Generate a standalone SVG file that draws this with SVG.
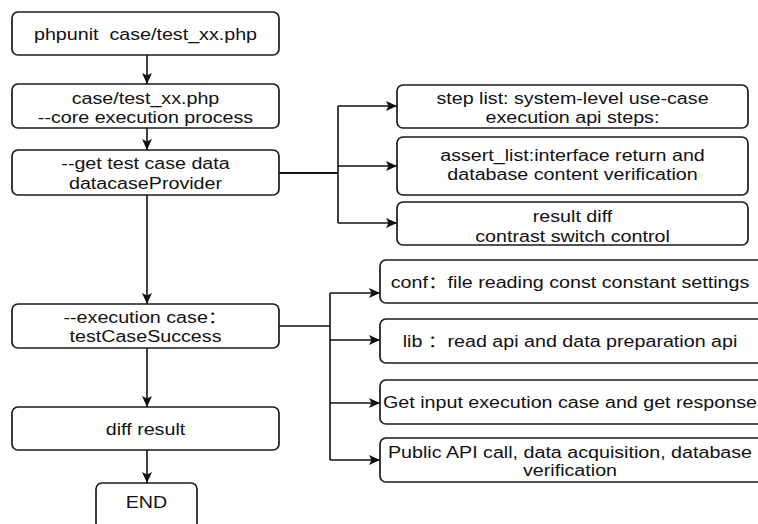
<svg xmlns="http://www.w3.org/2000/svg" width="758" height="524" viewBox="0 0 758 524">
<defs>
<marker id="arr" markerWidth="12" markerHeight="11" refX="11" refY="5.5" orient="auto" markerUnits="userSpaceOnUse">
<path d="M0,0.5 L11,5.5 L0,10.5 L2.5,5.5 Z" fill="#111"/>
</marker>
<style>
.box{fill:#fff;stroke:#1a1a1a;stroke-width:1.7}
.t{font-family:"Liberation Sans",Arial,"Noto Sans CJK SC",sans-serif;font-size:16px;fill:#111;text-anchor:middle}
.c{fill:none;stroke:#111;stroke-width:1.6}
.a{fill:none;stroke:#111;stroke-width:1.6;marker-end:url(#arr)}
</style>
</defs>
<rect width="758" height="524" fill="#fff"/>
<g id="connectors">
<path class="a" d="M147,55 V84"/>
<path class="a" d="M147,128 V150"/>
<path class="a" d="M147,195 V304"/>
<path class="a" d="M147,348 V407"/>
<path class="a" d="M147,450 V483"/>
<path class="c" d="M279,173 H338" style="stroke-width:2.2"/>
<path class="c" d="M338,106 V223"/>
<path class="a" d="M338,106 H397"/>
<path class="a" d="M338,166 H397"/>
<path class="a" d="M338,223 H397"/>
<path class="c" d="M279,326 H330"/>
<path class="c" d="M330,293 V460"/>
<path class="a" d="M330,293 H380"/>
<path class="a" d="M330,340 H380"/>
<path class="a" d="M330,403 H380"/>
<path class="a" d="M330,460 H380"/>
</g>
<g id="n1">
<rect class="box" x="12" y="12" width="267" height="43" rx="6"/>
<text class="t" xml:space="preserve" transform="translate(145.5,40) scale(1.23,1)">phpunit  case/test_xx.php</text>
</g>
<g id="n2">
<rect class="box" x="12" y="84" width="267" height="44" rx="6"/>
<text class="t" transform="translate(145.5,104) scale(1.23,1)"><tspan x="0">case/test_xx.php</tspan><tspan x="0" dy="19">--core execution process</tspan></text>
</g>
<g id="n3">
<rect class="box" x="12" y="150" width="267" height="45" rx="6"/>
<text class="t" transform="translate(145.5,169) scale(1.23,1)"><tspan x="0">--get test case data</tspan><tspan x="0" dy="20">datacaseProvider</tspan></text>
</g>
<g id="n4">
<rect class="box" x="12" y="304" width="267" height="44" rx="6"/>
<text class="t" transform="translate(145.5,323) scale(1.23,1)"><tspan x="0">--execution case：</tspan><tspan x="0" dy="19">testCaseSuccess</tspan></text>
</g>
<g id="n5">
<rect class="box" x="12" y="407" width="267" height="43" rx="6"/>
<text class="t" transform="translate(145.5,435) scale(1.23,1)">diff result</text>
</g>
<g id="n6">
<rect class="box" x="96" y="483" width="101" height="50" rx="6"/>
<text class="t" transform="translate(146.5,508) scale(1.23,1)">END</text>
</g>
<g id="r1">
<rect class="box" x="397" y="85" width="351" height="43" rx="6"/>
<text class="t" transform="translate(572.5,103.5) scale(1.23,1)"><tspan x="0">step list: system-level use-case</tspan><tspan x="0" dy="20">execution api steps:</tspan></text>
</g>
<g id="r2">
<rect class="box" x="397" y="137" width="351" height="58" rx="6"/>
<text class="t" transform="translate(572.5,161) scale(1.23,1)"><tspan x="0">assert_list:interface return and</tspan><tspan x="0" dy="19">database content verification</tspan></text>
</g>
<g id="r3">
<rect class="box" x="397" y="202" width="351" height="43" rx="6"/>
<text class="t" transform="translate(572.5,222) scale(1.23,1)"><tspan x="0">result diff</tspan><tspan x="0" dy="20">contrast switch control</tspan></text>
</g>
<g id="s1">
<rect class="box" x="380" y="260" width="385" height="43" rx="6"/>
<text class="t" transform="translate(570,288) scale(1.23,1)">conf：file reading const constant settings</text>
</g>
<g id="s2">
<rect class="box" x="380" y="319" width="385" height="44" rx="6"/>
<text class="t" transform="translate(570,347) scale(1.23,1)">lib ：read api and data preparation api</text>
</g>
<g id="s3">
<rect class="box" x="380" y="380" width="385" height="44" rx="6"/>
<text class="t" transform="translate(570,408) scale(1.23,1)">Get input execution case and get response</text>
</g>
<g id="s4">
<rect class="box" x="380" y="438" width="385" height="44" rx="6"/>
<text class="t" transform="translate(570,458) scale(1.23,1)"><tspan x="0">Public API call, data acquisition, database</tspan><tspan x="0" dy="18">verification</tspan></text>
</g>
</svg>
